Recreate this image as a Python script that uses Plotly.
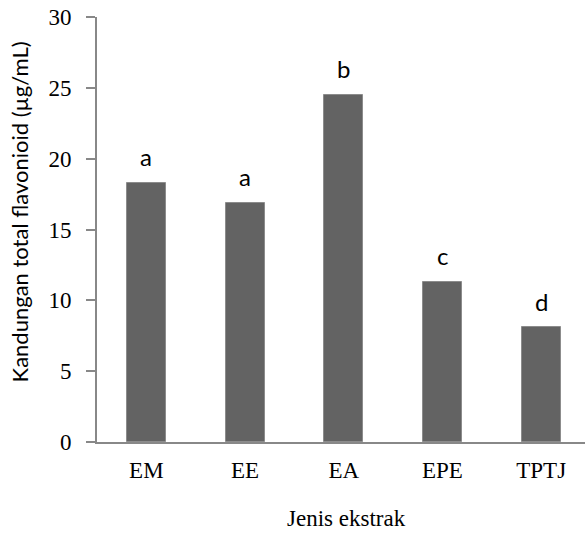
import plotly.graph_objects as go

categories = ["EM", "EE", "EA", "EPE", "TPTJ"]
values = [18.3, 16.9, 24.5, 11.3, 8.1]
letters = ["a", "a", "b", "c", "d"]
y_ticks = [0, 5, 10, 15, 20, 25, 30]

SERIF = "Liberation Serif, Times New Roman, serif"
SANS = "Lato, Carlito, sans-serif"

fig = go.Figure()
fig.add_trace(go.Bar(
    x=list(range(len(categories))), y=values,
    width=0.395,
    marker=dict(color="#636363", line=dict(color="#8c8c8c", width=1)),
    showlegend=False, hoverinfo="skip",
))

annotations = []
for i, (v, t) in enumerate(zip(values, letters)):
    annotations.append(dict(x=i, y=v, xref="x", yref="y", text=t, showarrow=False,
                            yanchor="middle", yshift=26,
                            font=dict(family=SANS, size=24, color="#000000")))
annotations.append(dict(x=-0.158, y=0.5424, xref="paper", yref="paper",
                        text="Kandungan total flavonioid (µg/mL)", textangle=-90,
                        showarrow=False, xanchor="center", yanchor="middle",
                        font=dict(family=SANS, size=22, color="#000000")))
annotations.append(dict(x=0.512, y=-0.213, xref="paper", yref="paper",
                        text="Jenis ekstrak", showarrow=False,
                        xanchor="center", yanchor="bottom",
                        font=dict(family=SERIF, size=23, color="#000000")))

fig.update_layout(
    width=585, height=533,
    margin=dict(l=97, r=0, t=17, b=91),
    plot_bgcolor="white", paper_bgcolor="white",
    annotations=annotations,
    bargap=0,
)
fig.update_xaxes(
    range=[-0.5, 4.444], tickmode="array",
    tickvals=list(range(len(categories))), ticktext=categories,
    showline=True, linecolor="#888888", linewidth=2,
    ticks="", showgrid=False, zeroline=False,
    ticklabelstandoff=6,
    tickfont=dict(family=SERIF, size=23, color="#000000"),
)
fig.update_yaxes(
    range=[0, 30], tickvals=y_ticks,
    showline=True, linecolor="#888888", linewidth=2,
    ticks="outside", ticklen=9, tickwidth=2, tickcolor="#888888",
    showgrid=False, zeroline=False,
    ticklabelstandoff=10,
    tickfont=dict(family=SERIF, size=23, color="#000000"),
)

fig.write_html("out.html")
